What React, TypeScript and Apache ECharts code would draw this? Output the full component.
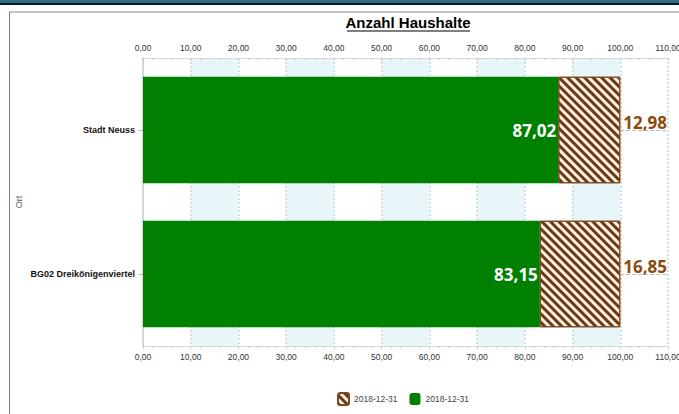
import React, { useEffect, useRef } from "react";
import * as echarts from "echarts";

const categories = ["Stadt Neuss", "BG02 Dreikönigenviertel"];
const householdValues = [87.02, 83.15];
const restValues = [12.98, 16.85];
const legendLabels = ["2018-12-31", "2018-12-31"];
const seriesKeys = ["rest", "haushalte"];
const titleText = "Anzahl Haushalte";
const axisName = "Ort";
const xMin = 0;
const xMax = 110;
const xInterval = 10;

const fmt = (v: number) => v.toFixed(2).replace(".", ",");

export default function App() {
  const ref = useRef<HTMLDivElement>(null);
  useEffect(() => {
    if (!ref.current) return;
    const chart = echarts.init(ref.current, null, { renderer: "svg" });
    const labelFont = "'Liberation Sans', Arial, sans-serif";
    const xAxisCommon = {
      type: "value",
      min: xMin,
      max: xMax,
      interval: xInterval,
      axisLine: { show: true, lineStyle: { color: "#d6dadd", width: 1 } },
      axisLabel: {
        formatter: (v: number) => fmt(v),
        color: "#333",
        fontSize: 8.5,
        fontFamily: labelFont,
        margin: 6,
      },
      axisTick: { show: true, length: 3, lineStyle: { color: "#c8ccd0" } },
      minorTick: { show: true, splitNumber: 5, length: 2, lineStyle: { color: "#c8ccd0" } },
    };
    const markData = categories.map((c, i) => [
      { coord: [householdValues[i] + restValues[i], c] },
      { coord: [xMax, c] },
    ]);
    chart.setOption({
      animation: false,
      graphic: [
        { type: "rect", shape: { x: 0, y: 0, width: 679, height: 3 }, style: { fill: "#2f6f88" }, silent: true },
        { type: "rect", shape: { x: 0, y: 3, width: 679, height: 2 }, style: { fill: "#0b171d" }, silent: true },
        { type: "line", shape: { x1: 9, y1: 12, x2: 679, y2: 12 }, style: { stroke: "#a8b4bf", lineWidth: 1.5 }, silent: true },
        { type: "line", shape: { x1: 9.5, y1: 12, x2: 9.5, y2: 414 }, style: { stroke: "#75818c", lineWidth: 1 }, silent: true },
        {
          type: "text",
          x: 408,
          y: 22,
          style: {
            text: titleText,
            fill: "#000",
            font: "bold 15px 'Liberation Sans', Arial, sans-serif",
            textAlign: "center",
            textVerticalAlign: "middle",
          },
          silent: true,
        },
        { type: "line", shape: { x1: 347, y1: 31, x2: 470, y2: 31 }, style: { stroke: "#000", lineWidth: 1.2 }, silent: true },
      ],
      legend: {
        data: seriesKeys,
        bottom: 3,
        left: 332,
        itemWidth: 11,
        itemHeight: 12,
        itemGap: 12,
        formatter: (name: string) => legendLabels[seriesKeys.indexOf(name)],
        textStyle: { color: "#444", fontSize: 8.5, fontFamily: labelFont },
      },
      grid: { left: 143, right: 11, top: 58, bottom: 68, containLabel: false, outerBoundsMode: "none" },
      xAxis: [
        {
          ...xAxisCommon,
          position: "top",
          axisTick: { ...xAxisCommon.axisTick, inside: true },
          minorTick: { ...xAxisCommon.minorTick },
          splitLine: { show: true, lineStyle: { color: "#cdd3d7", type: [2, 2], width: 1.5 } },
          splitArea: { show: true, areaStyle: { color: ["#ffffff", "#e8f6f9"] } },
        },
        {
          ...xAxisCommon,
          position: "bottom",
          splitLine: { show: false },
          splitArea: { show: false },
        },
      ],
      yAxis: {
        type: "category",
        data: categories,
        inverse: true,
        name: axisName,
        nameLocation: "middle",
        nameGap: 120,
        nameRotate: 90,
        nameMoveOverlap: false,
        nameTextStyle: { color: "#555", fontSize: 9, fontFamily: labelFont },
        axisLine: { show: true, lineStyle: { color: "#d2d6da", width: 2 } },
        axisTick: { show: true, alignWithLabel: true, length: 4, lineStyle: { color: "#b0b4b8" } },
        axisLabel: {
          color: "#111",
          fontSize: 9,
          fontWeight: "bold",
          fontFamily: labelFont,
          margin: 8,
        },
        splitLine: { show: false },
      },
      series: [
        {
          name: "haushalte",
          type: "bar",
          stack: "total",
          xAxisIndex: 0,
          data: householdValues,
          barCategoryGap: "26%",
          itemStyle: { color: "#008000" },
          label: {
            show: true,
            position: "insideRight",
            distance: 2,
            formatter: (p: any) => fmt(p.value),
            color: "#ffffff",
            fontSize: 17,
            fontWeight: "bold",
            fontFamily: "'Noto Sans', sans-serif",
          },
        },
        {
          name: "rest",
          type: "bar",
          stack: "total",
          xAxisIndex: 0,
          data: restValues,
          barCategoryGap: "26%",
          itemStyle: {
            color: "#fdf1e4",
            borderColor: "#7a4a22",
            borderWidth: 1,
            decal: {
              symbol: "rect",
              symbolSize: 1,
              color: "#6b3a14",
              dashArrayX: [1, 0],
              dashArrayY: [3, 3],
              rotation: Math.PI / 4,
            },
          },
          label: {
            show: true,
            position: "right",
            distance: 3,
            offset: [0, -8],
            formatter: (p: any) => fmt(p.value),
            color: "#8a4a0e",
            fontSize: 17,
            fontWeight: "bold",
            fontFamily: "'Noto Sans', sans-serif",
          },
          markLine: {
            silent: true,
            symbol: ["none", "none"],
            label: { show: false },
            lineStyle: { color: "#b8bcc0", type: "dashed", width: 1 },
            data: markData,
          },
        },
      ],
    });
    return () => chart.dispose();
  }, []);
  return (
    <div
      ref={ref}
      style={{ position: "fixed", left: 0, top: 0, width: 679, height: 414, background: "#fff" }}
    />
  );
}
